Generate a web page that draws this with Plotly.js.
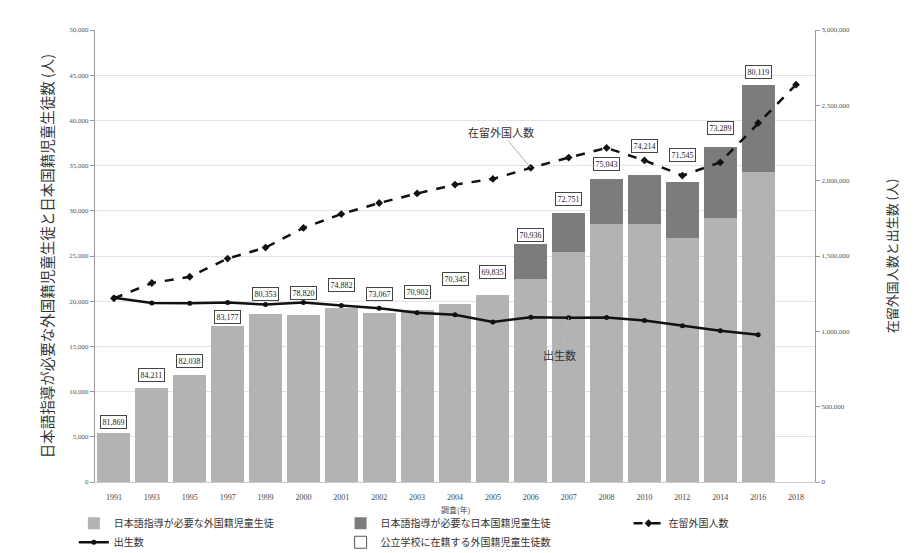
<!DOCTYPE html>
<html>
<head>
<meta charset="utf-8">
<script src="https://cdn.plot.ly/plotly-3.0.1.min.js"></script>
<style>html,body{margin:0;padding:0;background:#fff;}#chart{width:923px;height:553px;}</style>
</head>
<body>
<div id="chart"></div>
<script>
const years = ['1991','1993','1995','1997','1999','2000','2001','2002','2003','2004','2005','2006','2007','2008','2010','2012','2014','2016','2018'];
const foreignNeedJp = [5463,10450,11806,17296,18585,18432,19250,18734,19042,19678,20692,22413,25411,28575,28511,27013,29198,34335,null];
const japaneseNeedJp = [0,0,0,0,0,0,0,0,0,0,0,3868,4383,4895,5496,6171,7897,9612,null];
const residents = [1218891,1320748,1362371,1482707,1556113,1686444,1778462,1851758,1915030,1973747,2011555,2084919,2152973,2217426,2134151,2033656,2121831,2382822,2637251];
const births = [1223245,1188282,1187064,1191665,1177669,1190547,1170662,1153855,1123610,1110721,1062530,1092674,1089818,1091156,1071304,1037231,1003539,976978,null];
const enrolled = [81869,84211,82038,83177,80353,78820,74882,73067,70902,70345,69835,70936,72751,75043,74214,71545,73289,80119,null];
const labelLift = [11,13,14,9,20,22,23,19,18,25,23,9,14,15,29,27,19,13,0];

const serif = 'Liberation Serif, DejaVu Serif, serif';
const jp = 'Noto Sans CJK JP, sans-serif';

const traces = [
  {type:'bar', name:'日本語指導が必要な外国籍児童生徒', x:years, y:foreignNeedJp,
   marker:{color:'#b3b3b3'}, yaxis:'y', legend:'legend'},
  {type:'bar', name:'日本語指導が必要な日本国籍児童生徒', x:years, y:japaneseNeedJp,
   marker:{color:'#7c7c7c'}, yaxis:'y', legend:'legend2'},
  {type:'scatter', mode:'lines+markers', name:'在留外国人数', x:years, y:residents, yaxis:'y2', legend:'legend3',
   line:{color:'#111', width:2.5, dash:'dash'}, marker:{symbol:'diamond', size:6, color:'#111'}},
  {type:'scatter', mode:'lines+markers', name:'出生数', x:years, y:births, yaxis:'y2', legend:'legend',
   line:{color:'#111', width:2.5}, marker:{symbol:'circle', size:5, color:'#111'}},
  {type:'scatter', mode:'markers', name:'公立学校に在籍する外国籍児童生徒数', x:[null], y:[null], legend:'legend2',
   marker:{symbol:'square-open', size:12, color:'#555', line:{width:1}}, yaxis:'y'}
];

const annotations = [];
years.forEach((yr, i) => {
  if (enrolled[i] == null) return;
  const total = (foreignNeedJp[i] || 0) + (japaneseNeedJp[i] || 0);
  annotations.push({
    x: i, y: total, xref:'x', yref:'y', yanchor:'middle', yshift: labelLift[i],
    text: enrolled[i].toLocaleString('en-US'), showarrow:false,
    font:{family:serif, size:8, color:'#222'}, bgcolor:'#fff',
    bordercolor:'#444', borderwidth:1, borderpad:1.5
  });
});
annotations.push({x:years.indexOf('2006'), y:residents[11], xref:'x', yref:'y2', text:'在留外国人数',
  showarrow:true, arrowhead:0, arrowwidth:0.8, arrowcolor:'#999', ax:-30, ay:-36,
  font:{family:jp, size:11, color:'#333'}});
annotations.push({x:years.indexOf('2007'), y:births[12], xref:'x', yref:'y2', text:'出生数',
  showarrow:true, arrowhead:0, arrowwidth:0.8, arrowcolor:'#bbb', ax:-9, ay:37,
  font:{family:jp, size:11, color:'#333'}});
annotations.push({x:0.5, y:-0.06, xref:'paper', yref:'paper', yanchor:'middle', text:'調査(年)',
  showarrow:false, font:{family:jp, size:8, color:'#444'}});

function leg(x, ew) {
  return {orientation:'h', xref:'container', x:x, yref:'container', y:0.08, yanchor:'top', xanchor:'left',
    entrywidth:ew, itemwidth:30, font:{family:jp, size:10, color:'#333'}, traceorder:'normal', tracegroupgap:0,
    bgcolor:'rgba(0,0,0,0)'};
}

const layout = {
  width:923, height:553,
  margin:{l:95, r:108, t:30, b:71},
  paper_bgcolor:'#fff', plot_bgcolor:'#fff',
  barmode:'stack', bargap:0.13,
  showlegend:true,
  legend: leg(0.08, 400),
  legend2: leg(0.369, 400),
  legend3: leg(0.681, 100),
  xaxis:{type:'category', categoryorder:'array', categoryarray:years, range:[-0.5, 18.5], autorange:false,
    tickfont:{family:serif, size:8, color:'#444'}, showline:true, linecolor:'#ccc',
    ticks:'outside', ticklen:7, tickcolor:'rgba(0,0,0,0)', showgrid:false},
  yaxis:{range:[0,50000], autorange:false, dtick:5000, tickformat:',d',
    tickfont:{family:serif, size:7, color:'#555'}, showline:true, linecolor:'#999',
    ticks:'outside', ticklen:4, tickcolor:'#999', gridcolor:'#e3e3e3', zeroline:false,
    title:{text:'日本語指導が必要な外国籍児童生徒と日本国籍児童生徒数 (人)', font:{family:jp, size:14.5, color:'#333'}, standoff:12}},
  yaxis2:{overlaying:'y', side:'right', range:[0,3000000], autorange:false, dtick:500000, tickformat:',d',
    tickfont:{family:serif, size:7, color:'#555'}, showline:true, linecolor:'#999',
    ticks:'outside', ticklen:4, tickcolor:'#999', showgrid:false, zeroline:false,
    title:{text:'在留外国人数と出生数 (人)', font:{family:jp, size:13, color:'#333'}, standoff:38}},
  annotations: annotations
};

Plotly.newPlot('chart', traces, layout, {displayModeBar:false, staticPlot:true});
</script>
</body>
</html>
